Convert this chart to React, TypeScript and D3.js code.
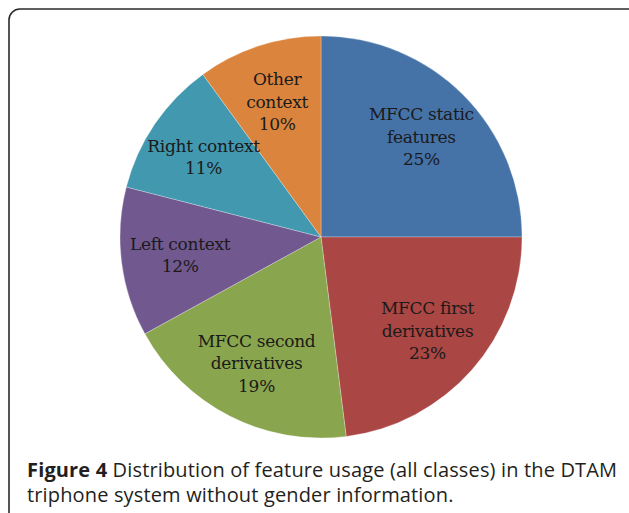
import React, { useEffect, useRef } from "react";
import * as d3 from "d3";

// slice data, clockwise from 12 o'clock
const labels = [
  ["MFCC static", "features"],
  ["MFCC first", "derivatives"],
  ["MFCC second", "derivatives"],
  ["Left context"],
  ["Right context"],
  ["Other", "context"],
];
const values = [25, 23, 19, 12, 11, 10];
const colors = ["#4572A7", "#AA4643", "#89A54E", "#71588F", "#4198AF", "#DB843D"];

const captionBold = "Figure 4";
const captionRest = " Distribution of feature usage (all classes) in the DTAM";
const captionLine2 = "triphone system without gender information.";

const W = 629;
const H = 513;

function App() {
  const ref = useRef<SVGSVGElement>(null);

  useEffect(() => {
    const svg = d3.select(ref.current);
    svg.selectAll("*").remove();

    // frame
    svg.append("rect")
      .attr("x", 9).attr("y", 9)
      .attr("width", 640).attr("height", 520)
      .attr("rx", 11)
      .attr("fill", "#fff")
      .attr("stroke", "#2b2b2b")
      .attr("stroke-width", 1.6);

    const cx = 321, cy = 237, R = 201;
    const pie = d3.pie<number>().sort(null).value(d => d);
    const arcs = pie(values);
    const arc = d3.arc<d3.PieArcDatum<number>>().innerRadius(0).outerRadius(R);
    const labelArc = d3.arc<d3.PieArcDatum<number>>().innerRadius(142).outerRadius(142);

    const g = svg.append("g").attr("transform", `translate(${cx},${cy})`);

    g.selectAll("path")
      .data(arcs)
      .enter()
      .append("path")
      .attr("d", arc)
      .attr("fill", (d, i) => colors[i])
      .attr("stroke", "#fff")
      .attr("stroke-opacity", 0.35)
      .attr("stroke-width", 0.8);

    const lineH = 22.5;
    const texts = g.selectAll("text.lbl")
      .data(arcs)
      .enter()
      .append("text")
      .attr("class", "lbl")
      .attr("text-anchor", "middle")
      .style("font-family", "'DejaVu Serif', serif")
      .style("font-size", "17px")
      .style("letter-spacing", "-0.3px")
      .style("fill", "#1a1a1a");

    texts.each(function (d, i) {
      const [x, y] = labelArc.centroid(d);
      const lines = [...labels[i], `${values[i]}%`];
      const top = y - ((lines.length - 1) * lineH) / 2;
      const t = d3.select(this);
      lines.forEach((ln, j) => {
        t.append("tspan")
          .attr("x", x)
          .attr("y", top + j * lineH)
          .attr("dy", "0.35em")
          .text(ln);
      });
    });

    // caption
    const cap = svg.append("text")
      .attr("x", 27).attr("y", 477)
      .style("font-family", "'Open Sans', sans-serif")
      .style("font-size", "20px")
      .style("letter-spacing", "0.15px")
      .style("fill", "#231f20");
    cap.append("tspan").style("font-weight", "bold").text(captionBold);
    cap.append("tspan").text(captionRest);

    svg.append("text")
      .attr("x", 27).attr("y", 502)
      .style("font-family", "'Open Sans', sans-serif")
      .style("font-size", "20px")
      .style("letter-spacing", "0.15px")
      .style("fill", "#231f20")
      .text(captionLine2);
  }, []);

  return (
    <svg
      ref={ref}
      width={W}
      height={H}
      style={{ position: "absolute", left: 0, top: 0, background: "#fff" }}
    />
  );
}

export default App;
